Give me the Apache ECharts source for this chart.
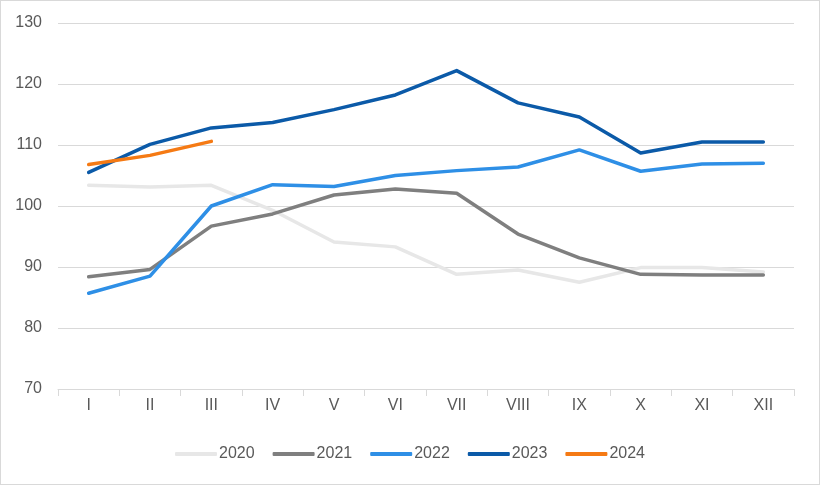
<!DOCTYPE html>
<html>
<head>
<meta charset="utf-8">
<script src="https://cdn.jsdelivr.net/npm/echarts@6/dist/echarts.min.js"></script>
<style>
html,body{margin:0;padding:0;background:#fff;}
#c{width:820px;height:485px;box-sizing:border-box;border:1px solid #d9d9d9;}
</style>
</head>
<body>
<div id="c"></div>
<script>
const categories = ['I','II','III','IV','V','VI','VII','VIII','IX','X','XI','XII'];
const s2020 = [103.4,103.1,103.4,99.3,94.1,93.3,88.8,89.5,87.5,89.9,89.9,89.2];
const s2021 = [88.4,89.6,96.7,98.7,101.8,102.8,102.1,95.4,91.5,88.8,88.7,88.7];
const s2022 = [85.7,88.5,100.0,103.5,103.2,105.0,105.8,106.4,109.2,105.7,106.9,107.0];
const s2023 = [105.5,110.1,112.8,113.7,115.8,118.2,122.2,116.9,114.6,108.7,110.5,110.5];
const s2024 = [106.8,108.3,110.6];
const seriesNames = ['2020','2021','2022','2023','2024'];
const colors = ['#e7e7e7','#7f7f7f','#2e8fe6','#0b5aa8','#f57a14'];
const yTicks = {min:70,max:130,interval:10};

const font = "'Liberation Sans', 'Open Sans', sans-serif";
const data = [s2020,s2021,s2022,s2023,s2024];
const chart = echarts.init(document.getElementById('c'));
chart.setOption({
  animation:false,
  color:colors,
  grid:{left:57,right:25,top:22,bottom:95},
  legend:{
    bottom:17,left:'center',
    icon:'roundRect',itemWidth:42,itemHeight:4,itemGap:18,
    textStyle:{color:'#595959',fontSize:16,fontFamily:font,padding:[0,0,0,-3]},
    data:seriesNames
  },
  xAxis:{
    type:'category',data:categories,boundaryGap:true,
    axisLine:{lineStyle:{color:'#d9d9d9',width:1}},
    axisTick:{show:true,interval:0,length:7,lineStyle:{color:'#d9d9d9'}},
    axisLabel:{color:'#595959',fontSize:16,fontFamily:font,margin:9,interval:0}
  },
  yAxis:{
    type:'value',min:yTicks.min,max:yTicks.max,interval:yTicks.interval,
    axisLine:{show:false},axisTick:{show:false},
    splitLine:{lineStyle:{color:'#d9d9d9',width:1}},
    axisLabel:{color:'#595959',fontSize:16,fontFamily:font,margin:16}
  },
  series:data.map((d,i)=>({
    name:seriesNames[i],type:'line',data:d,
    showSymbol:false,symbol:'none',
    lineStyle:{width:3.5,color:colors[i],cap:'round',join:'round'},
    z:i+2
  }))
});
</script>
</body>
</html>
